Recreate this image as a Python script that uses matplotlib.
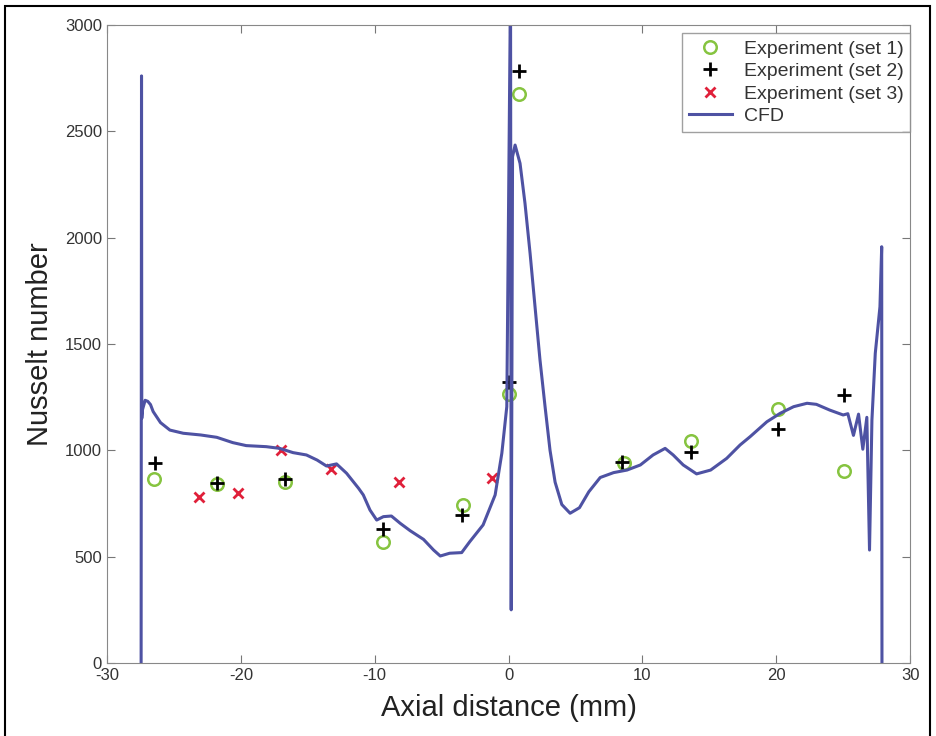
import matplotlib

matplotlib.use("Agg")
import matplotlib.pyplot as plt
from matplotlib.patches import Rectangle

set1_x = [-26.5, -21.8, -16.7, -9.4, -3.4, 0.0, 0.8, 8.6, 13.6, 20.1, 25.1]
set1_y = [865, 842, 852, 570, 743, 1265, 2675, 940, 1044, 1193, 904]

set2_x = [-26.4, -21.8, -16.7, -9.4, -3.5, 0.0, 0.8, 8.5, 13.6, 20.1, 25.1]
set2_y = [942, 848, 865, 630, 696, 1322, 2785, 945, 992, 1099, 1260]

set3_x = [-23.1, -20.2, -17.0, -13.3, -8.2, -1.2]
set3_y = [779, 798, 1001, 911, 852, 871]

# CFD curve
cfd_x = [-27.45, -27.42, -27.40, -27.35, -27.15, -26.95, -26.75, -26.55, -26.0,
         -25.3, -24.3, -23.0, -21.8, -20.6, -19.6, -18.1, -17.1, -16.1, -15.1,
         -14.3, -13.6, -12.85, -12.1, -11.2, -10.85, -10.35, -9.85, -9.35,
         -8.75, -8.1, -7.35, -6.35, -5.6, -5.1, -4.4, -3.5, -2.9, -1.9, -1.0,
         -0.5, -0.13, 0.15, 0.2, 0.3, 0.49, 0.86, 1.23, 1.61, 1.98, 2.35, 2.73,
         3.1, 3.48, 3.98, 4.6, 5.3, 6.0, 6.85, 7.85, 8.85, 9.85, 10.8, 11.7,
         12.3, 13.05, 14.05, 15.1, 16.3, 17.3, 18.05, 19.3, 20.3, 21.3, 22.3,
         23.0, 24.0, 25.0, 25.35, 25.77, 26.15, 26.47, 26.77, 26.97, 27.15,
         27.4, 27.75, 27.88, 27.9]
cfd_y = [0, 2760, 1150, 1190, 1235, 1230, 1215, 1182, 1130,
         1095, 1080, 1072, 1061, 1036, 1022, 1017, 1009, 989, 978,
         954, 926, 936, 892, 821, 790, 719, 672, 688,
         691, 657, 622, 581, 531, 503, 516, 519, 570, 649, 790,
         986, 1205, 3200, 250, 2380, 2435, 2349, 2161, 1926, 1675, 1425, 1205,
         1000, 850, 745, 704, 730, 805, 872, 895, 907, 931, 978, 1009,
         978, 931, 889, 907, 962, 1025, 1064, 1134, 1174, 1205, 1221,
         1216, 1189, 1166, 1172, 1070, 1170, 1005, 1155, 531, 1142,
         1456, 1675, 1957, 0]

x_ticks = [-30, -20, -10, 0, 10, 20, 30]
y_ticks = [0, 500, 1000, 1500, 2000, 2500, 3000]

plt.rcParams["font.family"] = ["Liberation Sans", "DejaVu Sans"]
plt.rcParams["axes.unicode_minus"] = False

fig = plt.figure(figsize=(9.36, 7.36), dpi=100)
ax = fig.add_axes([0.1143, 0.0992, 0.858, 0.867])

ax.plot(set1_x, set1_y, "o", ms=9, mfc="none", mec="#86c440", mew=1.8,
        ls="none", label="Experiment (set 1)")
ax.plot(set2_x, set2_y, "+", ms=10, mec="black", mew=2.0,
        ls="none", label="Experiment (set 2)")
ax.plot(set3_x, set3_y, "x", ms=7, mec="#e0203a", mew=2.0,
        ls="none", label="Experiment (set 3)")
ax.plot(cfd_x, cfd_y, "-", lw=2.2, color="#4e52a3", label="CFD")

ax.set_xlim(-30, 30)
ax.set_ylim(0, 3000)
ax.set_xticks(x_ticks)
ax.set_yticks(y_ticks)
ax.tick_params(direction="in", length=6, top=True, right=True,
               labelsize=12, colors="#777777", labelcolor="#333333")
for sp in ax.spines.values():
    sp.set_color("#888888")

ax.set_xlabel("Axial distance (mm)", fontsize=21, color="#222222", labelpad=8)
ax.set_ylabel("Nusselt number", fontsize=21, color="#222222", labelpad=8)

leg = ax.legend(loc="upper right", bbox_to_anchor=(1.0, 0.987), borderaxespad=0,
                fontsize=14, frameon=True, fancybox=False, handlelength=2.2,
                handletextpad=0.6, labelspacing=0.25, borderpad=0.35)
leg.get_frame().set_edgecolor("#888888")
leg.get_frame().set_linewidth(1.0)
for t in leg.get_texts():
    t.set_color("#333333")

# border around the whole figure (open at the bottom edge)
fig.patches.append(Rectangle((5 / 936, -0.02), 925 / 936, 1.0117,
                             transform=fig.transFigure, fill=False,
                             edgecolor="black", lw=1.5))

fig.savefig("out.png", dpi=100)
